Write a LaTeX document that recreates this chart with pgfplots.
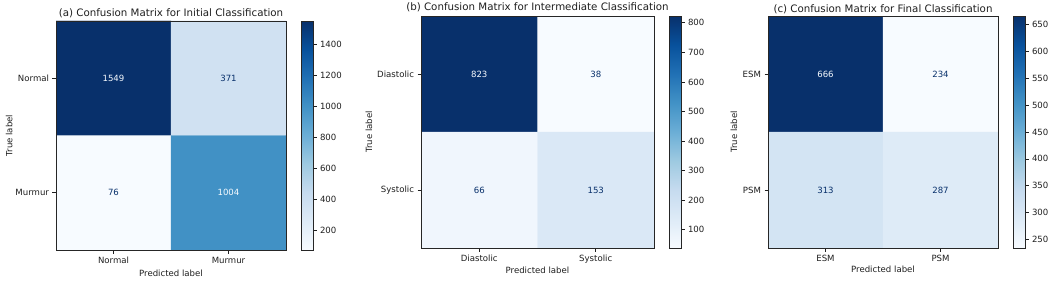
\documentclass[border=0pt]{standalone}
\usepackage{fontspec}
\setmainfont{DejaVu Sans}
\usepackage{pgfplots}
\pgfplotsset{compat=1.18}
\definecolor{mpllight}{RGB}{247,251,255}
\definecolor{mpldark}{RGB}{8,48,107}
\definecolor{txt}{RGB}{30,30,30}
\pgfplotsset{
  colormap={mplblues}{rgb255(0cm)=(247,251,255) rgb255(1cm)=(222,235,247) rgb255(2cm)=(198,219,239) rgb255(3cm)=(158,202,225) rgb255(4cm)=(107,174,214) rgb255(5cm)=(66,146,198) rgb255(6cm)=(33,113,181) rgb255(7cm)=(8,81,156) rgb255(8cm)=(8,48,107)},
  cm/.style={
    scale only axis,
    colormap name=mplblues,
    y dir=reverse,
    xmin=-0.5,xmax=1.5,ymin=-0.5,ymax=1.5,
    enlargelimits=false,
    xtick={0,1}, ytick={0,1},
    tick align=outside, xtick pos=bottom, ytick pos=left,
    major tick length=3.5bp,
    tick style={txt, line width=0.6bp},
    axis line style={black!85, line width=0.7bp},
    ticklabel style={font=\fontsize{8.6}{10}\selectfont, text=txt},
    label style={font=\fontsize{8.6}{10}\selectfont, text=txt},
    title style={font=\fontsize{10.3}{12}\selectfont, text=txt, at={(0.5,1)}, anchor=base},
    axis on top,
    colorbar,
  },
  cb/.style={
    scale only axis,
    width=12bp,
    at={(parent axis.north east)}, anchor=north west, xshift=6.5bp,
    ytick pos=right, yticklabel pos=right,
    tick align=outside, major tick length=3.5bp,
    tick style={txt, line width=0.6bp},
    axis line style={black!85, line width=0.6bp},
    yticklabel style={font=\fontsize{8.6}{10}\selectfont, text=txt, /pgf/number format/assume math mode=true, /pgf/number format/1000 sep={}},
  },
  ann/.style={only marks, mark=none, nodes near coords, point meta=explicit symbolic,
    nodes near coords style={anchor=center, font=\fontsize{8.6}{10}\selectfont, text=#1}},
}
\begin{document}
\begin{tikzpicture}
\path[use as bounding box] (0,0) rectangle (1052bp,282bp);
% (a)
\begin{axis}[cm, at={(56bp,32bp)}, anchor=south west, width=230bp, height=229bp,
  title={(a) Confusion Matrix for Initial Classification}, title style={yshift=-1bp},
  xticklabels={Normal,Murmur}, yticklabels={Normal,Murmur},
  xlabel={Predicted label}, ylabel={True label},
  xlabel style={at={(axis description cs:0.5,0)}, anchor=center, yshift=-23bp},
  ylabel style={at={(axis description cs:-0.204,0.5)}, anchor=center},
  point meta min=76, point meta max=1549,
  colorbar style={cb, height=229bp, ytick={200,400,...,1400}}]
\addplot[matrix plot*, mesh/cols=2, point meta=explicit] table[meta=c]{
x y c
0 0 1549
1 0 371
0 1 76
1 1 1004
};
\addplot[ann=mpllight] table[meta=l]{
x y l
0 0 1549
1 1 1004
};
\addplot[ann=mpldark] table[meta=l]{
x y l
1 0 371
0 1 76
};
\end{axis}
% (b)
\begin{axis}[cm, at={(421bp,34bp)}, anchor=south west, width=233bp, height=232bp,
  title={(b) Confusion Matrix for Intermediate Classification}, title style={yshift=-0.6bp},
  xticklabels={Diastolic,Systolic}, yticklabels={Diastolic,Systolic},
  xlabel={Predicted label}, ylabel={True label},
  xlabel style={at={(axis description cs:0.5,0)}, anchor=center, yshift=-22bp},
  ylabel style={at={(axis description cs:-0.223,0.5)}, anchor=center},
  point meta min=38, point meta max=823,
  colorbar style={cb, height=232bp, ytick={100,200,...,800}}]
\addplot[matrix plot*, mesh/cols=2, point meta=explicit] table[meta=c]{
x y c
0 0 823
1 0 38
0 1 66
1 1 153
};
\addplot[ann=mpllight] table[meta=l]{
x y l
0 0 823
};
\addplot[ann=mpldark] table[meta=l]{
x y l
1 0 38
0 1 66
1 1 153
};
\end{axis}
% (c)
\begin{axis}[cm, at={(768bp,34bp)}, anchor=south west, width=230bp, height=232bp,
  title={(c) Confusion Matrix for Final Classification}, title style={yshift=-2bp},
  xticklabels={ESM,PSM}, yticklabels={ESM,PSM},
  xlabel={Predicted label}, ylabel={True label},
  xlabel style={at={(axis description cs:0.5,0)}, anchor=center, yshift=-21bp},
  ylabel style={at={(axis description cs:-0.148,0.5)}, anchor=center},
  point meta min=234, point meta max=666,
  colorbar style={cb, height=232bp, ytick={250,300,...,650}}]
\addplot[matrix plot*, mesh/cols=2, point meta=explicit] table[meta=c]{
x y c
0 0 666
1 0 234
0 1 313
1 1 287
};
\addplot[ann=mpllight] table[meta=l]{
x y l
0 0 666
};
\addplot[ann=mpldark] table[meta=l]{
x y l
1 0 234
0 1 313
1 1 287
};
\end{axis}
\end{tikzpicture}
\end{document}
